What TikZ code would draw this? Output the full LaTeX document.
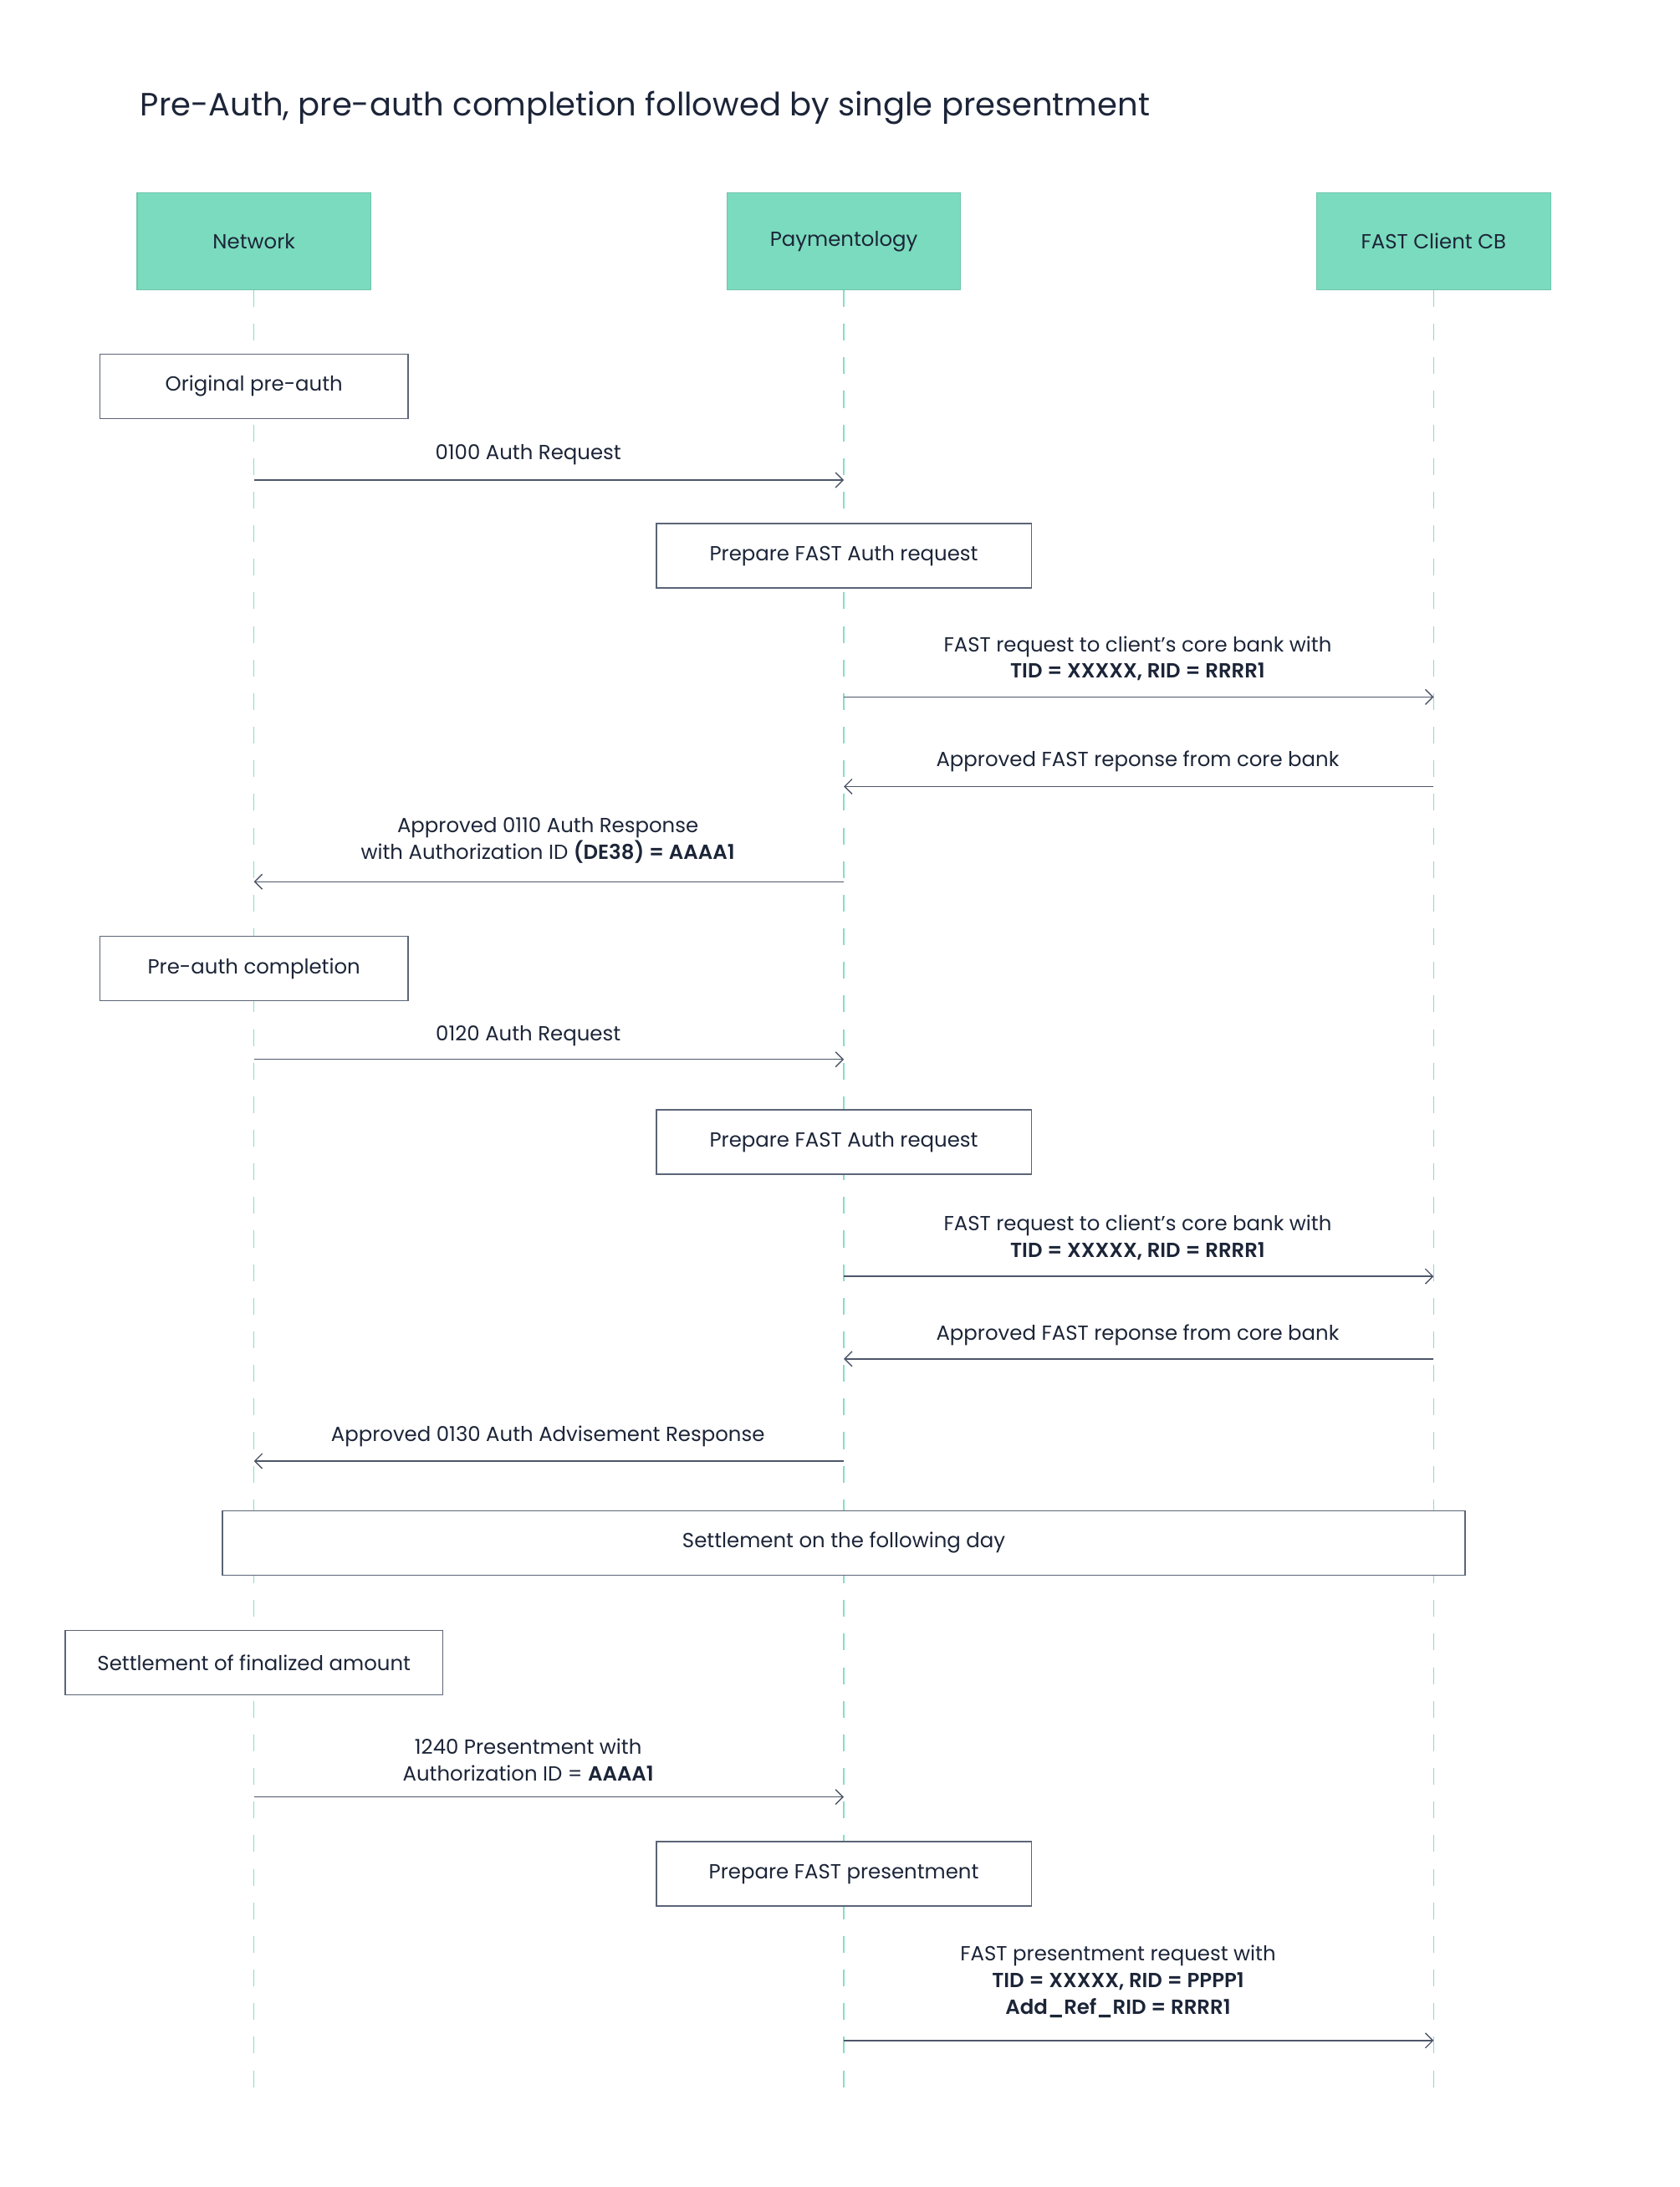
\documentclass[tikz,border=0pt]{standalone}
\usepackage{fontspec}
\setmainfont{Poppins}[BoldFont=* SemiBold]
\usetikzlibrary{arrows.meta}
\definecolor{mint}{HTML}{7BDBBE}
\definecolor{lifec}{HTML}{86DEC4}
\definecolor{boxc}{HTML}{5B6577}
\definecolor{arrc}{HTML}{4D5669}
\definecolor{txt}{HTML}{1C2538}
\tikzset{
  head/.style={rectangle, fill=mint, draw=mint!90!black, line width=0.4pt, minimum width=100.2pt, minimum height=41.4pt, inner sep=0pt, text=txt, font=\fontsize{8.75pt}{11.4pt}\selectfont},
  stepbox/.style={rectangle, draw=boxc, line width=0.55pt, fill=white, minimum height=27.6pt, inner sep=0pt, text=txt, font=\fontsize{8.75pt}{11.4pt}\selectfont},
  lifeline/.style={draw=lifec, line width=0.5pt, dash pattern=on 7.2pt off 7.2pt},
  msg/.style={draw=arrc, line width=0.5pt, -{Straight Barb[length=3.2pt,width=6.4pt,line width=0.5pt]}},
  lbl/.style={align=center, text=txt, inner sep=0pt, font=\fontsize{8.75pt}{11.4pt}\selectfont},
}
\begin{document}
\begin{tikzpicture}[x=0.6pt,y=-0.6pt]
\useasboundingbox[fill=white] (0,0) rectangle (1200,1562.7);
% title
\node[anchor=west, inner sep=0pt, text=txt, font=\fontsize{13.8pt}{16pt}\selectfont] (title) at (100,77) {Pre-Auth, pre-auth completion followed by single presentment};
% headers
\node[head] (net) at (181.5,172.5) {Network};
\node[head] (pay) at (603,172.5) {Paymentology};
\node[head] (cb) at (1024.5,172.5) {FAST Client CB};
% lifeline ends
\coordinate (netend) at (181.5,1492);
\coordinate (payend) at (603,1492);
\coordinate (cbend) at (1024.5,1492);
\draw[lifeline] (net.south) -- (netend);
\draw[lifeline] (pay.south) -- (payend);
\draw[lifeline] (cb.south) -- (cbend);
% boxes
\node[stepbox, minimum width=132pt] (b1) at (181.5,276) {Original pre-auth};
\node[stepbox, minimum width=160.8pt] (b2) at (603,397) {Prepare FAST Auth request};
\node[stepbox, minimum width=132pt] (b3) at (181.5,692) {Pre-auth completion};
\node[stepbox, minimum width=160.8pt] (b4) at (603,816) {Prepare FAST Auth request};
\node[stepbox, minimum width=532.8pt] (b5) at (603,1102.5) {Settlement on the following day};
\node[stepbox, minimum width=162pt] (b6) at (181.5,1188) {Settlement of finalized amount};
\node[stepbox, minimum width=160.8pt] (b7) at (603,1339) {Prepare FAST presentment};
% message anchors
\coordinate (n1) at (181.5,343); \coordinate (p1) at (603,343);
\coordinate (p2) at (603,498);   \coordinate (c2) at (1024.5,498);
\coordinate (c3) at (1024.5,562); \coordinate (p3) at (603,562);
\coordinate (p4) at (603,630);   \coordinate (n4) at (181.5,630);
\coordinate (n5) at (181.5,757); \coordinate (p5) at (603,757);
\coordinate (p6) at (603,912);   \coordinate (c6) at (1024.5,912);
\coordinate (c7) at (1024.5,971); \coordinate (p7) at (603,971);
\coordinate (p8) at (603,1044);  \coordinate (n8) at (181.5,1044);
\coordinate (n9) at (181.5,1284); \coordinate (p9) at (603,1284);
\coordinate (p10) at (603,1458); \coordinate (c10) at (1024.5,1458);
% messages
\draw[msg] (n1) -- (p1);
\draw[msg] (p2) -- (c2);
\draw[msg] (c3) -- (p3);
\draw[msg] (p4) -- (n4);
\draw[msg] (n5) -- (p5);
\draw[msg] (p6) -- (c6);
\draw[msg] (c7) -- (p7);
\draw[msg] (p8) -- (n8);
\draw[msg] (n9) -- (p9);
\draw[msg] (p10) -- (c10);
% labels
\node[lbl] (l1) at (377.5,325) {0100 Auth Request};
\node[lbl] (l2) at (813,470.5) {FAST request to client’s core bank with\\\textbf{TID = XXXXX, RID = RRRR1}};
\node[lbl] (l3) at (813,544) {Approved FAST reponse from core bank};
\node[lbl] (l4) at (391.5,600.5) {Approved 0110 Auth Response\\with Authorization ID \textbf{(DE38) = AAAA1}};
\node[lbl] (l5) at (377.5,740) {0120 Auth Request};
\node[lbl] (l6) at (813,884.5) {FAST request to client’s core bank with\\\textbf{TID = XXXXX, RID = RRRR1}};
\node[lbl] (l7) at (813,954) {Approved FAST reponse from core bank};
\node[lbl] (l8) at (391.5,1026) {Approved 0130 Auth Advisement Response};
\node[lbl] (l9) at (377.5,1257.5) {1240 Presentment with\\Authorization ID = \textbf{AAAA1}};
\node[lbl] (l10) at (799,1416) {FAST presentment request with\\\textbf{TID = XXXXX, RID = PPPP1}\\\textbf{Add\_Ref\_RID = RRRR1}};
\end{tikzpicture}
\end{document}
